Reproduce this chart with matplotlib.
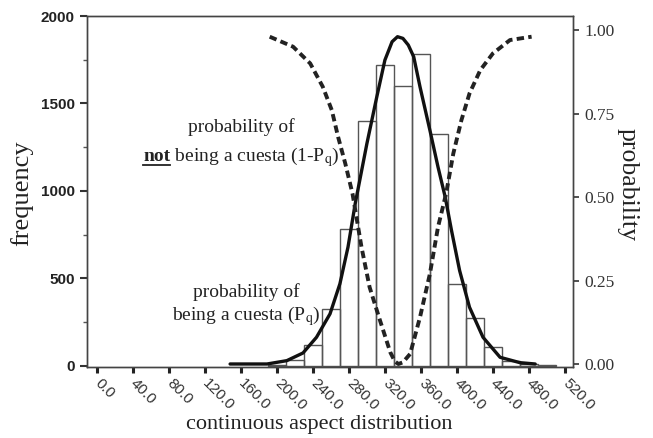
import matplotlib
matplotlib.use("Agg")
import matplotlib.pyplot as plt
from matplotlib.lines import Line2D
from matplotlib.ticker import MultipleLocator
import numpy as np

plt.rcParams['mathtext.fontset'] = 'stix'

## histogram of aspect values (bin centres, bin width 20)
bin_centres = [200, 220, 240, 260, 280, 300, 320, 340, 360, 380, 400, 420, 440, 460, 480, 500]
frequency = [8, 35, 120, 326, 780, 1400, 1720, 1600, 1783, 1326, 470, 274, 107, 29, 10, 5]

## probability of being a cuesta (Pq)
pq_x = [148, 189, 211, 229, 244, 259, 270, 279, 287, 300, 311, 320, 328, 334, 340,
        346, 352, 359, 370, 379, 387, 394, 403, 414, 429, 448, 470, 487]
pq_y = [0.0, 0.0, 0.01, 0.033, 0.08, 0.15, 0.24, 0.35, 0.48, 0.66, 0.80, 0.91, 0.965, 0.98, 0.975,
        0.955, 0.92, 0.83, 0.70, 0.59, 0.50, 0.40, 0.28, 0.17, 0.08, 0.02, 0.004, 0.0]

## probability of NOT being a cuesta (1-Pq), dashed curve
npq_x = [192, 218, 237, 251, 261, 268, 276, 284, 294, 303, 314, 326, 331, 335, 340,
         348, 359, 370, 379, 388, 396, 405, 414, 426, 440, 459, 483]
npq_y = [0.98, 0.95, 0.90, 0.83, 0.76, 0.68, 0.60, 0.51, 0.35, 0.23, 0.135, 0.035, 0.008, 0.0, 0.005,
         0.03, 0.14, 0.27, 0.41, 0.51, 0.63, 0.73, 0.81, 0.88, 0.93, 0.97, 0.98]

x_ticks = np.arange(0, 521, 40)

W, H = 653, 438
fig = plt.figure(figsize=(W / 100, H / 100), dpi=100)
ax = fig.add_axes([87 / W, 1 - 367 / H, (573 - 87) / W, (367 - 16) / H])
ax2 = ax.twinx()

ax.bar(bin_centres, frequency, width=20, fill=False, edgecolor='#555555', linewidth=1.0, zorder=2)
ax2.plot(pq_x, pq_y, color='#111111', lw=2.4, solid_capstyle='round', solid_joinstyle='round', zorder=4)
ax2.plot(npq_x, npq_y, color='#222222', lw=2.8, dashes=(1.9, 1.1), zorder=4)

ax.set_xlim(-11, 529)
ax.set_ylim(-6, 2000)
ax2.set_ylim(-0.009, 1.042)

ax.set_xticks(x_ticks)
ax.set_xticklabels(['%.1f' % v for v in x_ticks], rotation=-45, ha='left', va='center',
                   rotation_mode='anchor', fontfamily='Liberation Sans', fontsize=11, color='#333333')
ax.set_yticks([0, 500, 1000, 1500, 2000])
ax.yaxis.set_minor_locator(MultipleLocator(250))
for lab in ax.get_yticklabels():
    lab.set_fontfamily('Liberation Sans')
    lab.set_fontweight('bold')
    lab.set_fontsize(11)
    lab.set_color('#222222')

ax2.set_yticks([0, 0.25, 0.5, 0.75, 1.0])
ax2.set_yticklabels(['0.00', '0.25', '0.50', '0.75', '1.00'], fontfamily='Liberation Serif',
                    fontsize=12.5, color='#333333')

ax.tick_params(axis='x', direction='out', length=4, width=2.2, color='#222222', pad=6)
ax.tick_params(axis='y', which='major', direction='out', length=5, width=1.5, color='#333333', pad=4)
ax.tick_params(axis='y', which='minor', direction='out', length=3, width=1.0, color='#555555')
ax2.tick_params(axis='y', direction='out', length=4, width=1.2, color='#333333', pad=4)

for a in (ax, ax2):
    for s in a.spines.values():
        s.set_color('#444444')
        s.set_linewidth(1.0)

fig.text(22 / W, 1 - 193 / H, 'frequency', rotation=90, ha='center', va='center',
         fontfamily='Liberation Serif', fontsize=19, color='#222222')
fig.text(628 / W, 1 - 185 / H, 'probability', rotation=270, ha='center', va='center',
         fontfamily='Liberation Serif', fontsize=18.5, color='#222222')
fig.text(319 / W, 1 - 425 / H, 'continuous aspect distribution', ha='center', va='center',
         fontfamily='Liberation Serif', fontsize=16, color='#222222')

## annotations
serif = dict(fontfamily='Liberation Serif', fontsize=14, color='#222222')
fig.text(241 / W, 1 - 132 / H, 'probability of', ha='center', va='baseline', **serif)
base2 = 1 - 161 / H
t_not = fig.text(143 / W, base2, 'not', ha='left', va='baseline', fontweight='bold', **serif)
fig.text(246 / W, 1 - 297 / H, 'probability of', ha='center', va='baseline', **serif)
fig.text(246 / W, 1 - 320 / H, 'being a cuesta (P$_\\mathrm{q}$)', ha='center', va='baseline', **serif)

## rest of the line after "not", plus the underline
fig.canvas.draw()
bb = t_not.get_window_extent()
inv = fig.transFigure.inverted()
xe = inv.transform((bb.x1, 0))[0]
fig.text(xe, base2, ' being a cuesta (1-P$_\\mathrm{q}$)', ha='left', va='baseline', **serif)
x0 = inv.transform((bb.x0, 0))[0]
yu = base2 - 3.5 / H
fig.add_artist(Line2D([x0, xe], [yu, yu], transform=fig.transFigure, color='#222222', lw=1.3))

fig.savefig('out.png', dpi=100)
